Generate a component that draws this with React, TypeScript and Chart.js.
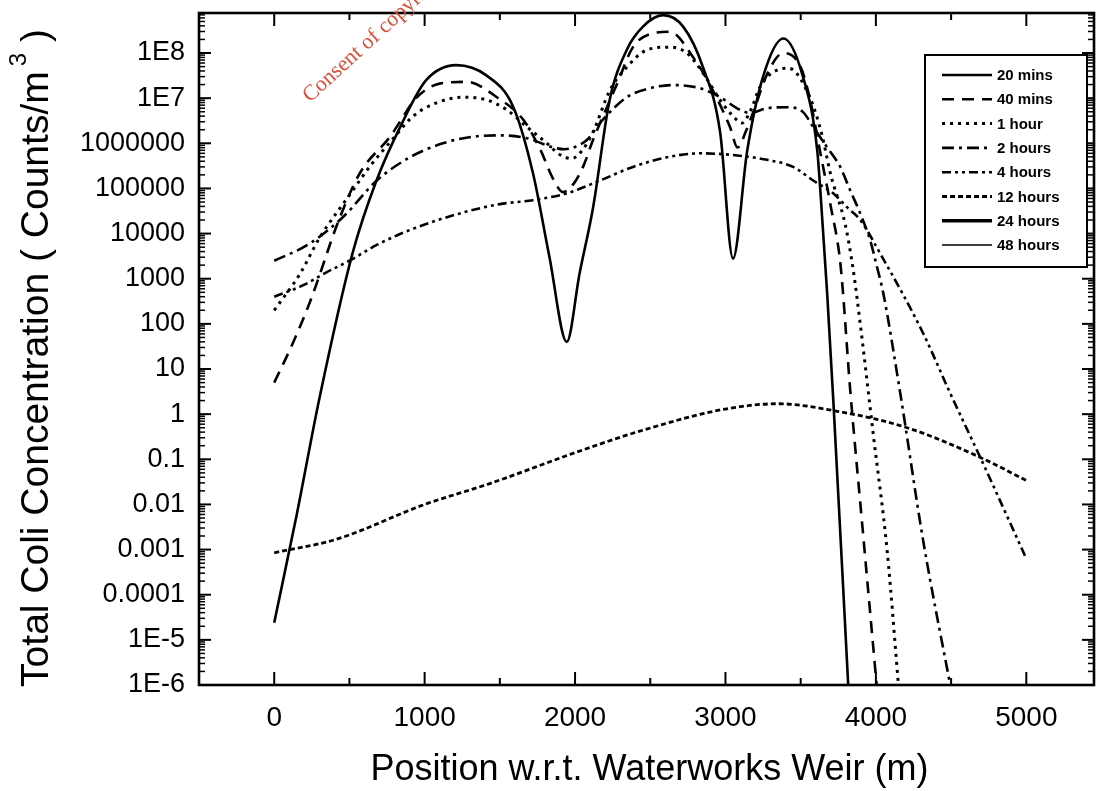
import React, { useEffect, useRef } from 'react';
import { Chart, registerables } from 'chart.js';

Chart.register(...registerables);

// ---------- data ----------
const seriesLabels = ['20 mins', '40 mins', '1 hour', '2 hours', '4 hours', '12 hours', '24 hours', '48 hours'];

const xTickValues = [0, 1000, 2000, 3000, 4000, 5000];
const xMinorTickValues = [500, 1500, 2500, 3500, 4500];
const yTickValues = [1e-6, 1e-5, 1e-4, 1e-3, 1e-2, 1e-1, 1, 10, 100, 1000, 1e4, 1e5, 1e6, 1e7, 1e8];
const yTickLabels = ['1E-6', '1E-5', '0.0001', '0.001', '0.01', '0.1', '1', '10', '100', '1000', '10000', '100000', '1000000', '1E7', '1E8'];

const x20min = [0, 150, 300, 520, 680, 850, 1010, 1210, 1410, 1590, 1720, 1830, 1945, 2030, 2120, 2230, 2345, 2450, 2585, 2720, 2850, 2965, 3050, 3145, 3250, 3385, 3515, 3610, 3635, 3676, 3717, 3816];
const y20min = [2.4e-5, 6e-3, 2.2, 3.6e3, 1.5e5, 2.8e6, 2.5e7, 5.4e7, 3.2e7, 6.3e6, 2.2e5, 3.0e3, 40, 1.3e3, 3.8e4, 9.1e6, 1.2e8, 3.8e8, 6.9e8, 3.8e8, 4.9e7, 1.7e6, 2.8e3, 7e5, 3e7, 2.1e8, 3e7, 7e5, 5.5e4, 480, 2.0, 1e-6];

const x40min = [0, 120, 240, 430, 570, 770, 950, 1100, 1280, 1480, 1660, 1770, 1860, 1920, 1990, 2053, 2120, 2212, 2280, 2385, 2520, 2630, 2785, 2915, 3030, 3080, 3140, 3190, 3280, 3385, 3500, 3563, 3630, 3700, 3765, 3830, 3915, 4005];
const y40min = [5, 35, 320, 2.0e4, 2.2e5, 1.4e6, 1.05e7, 2.1e7, 2.3e7, 1.05e7, 3.2e6, 7.1e5, 1.5e5, 8.3e4, 1.26e5, 3.0e5, 1.2e6, 6.3e6, 2.1e7, 1.35e8, 2.75e8, 2.95e8, 8.1e7, 1.5e7, 2.3e6, 8.1e5, 2.0e6, 5.5e6, 3.6e7, 1.0e8, 4.9e7, 9.1e6, 6.3e5, 4.0e4, 2.0e3, 3.2, 2.2e-3, 1e-6];

const x1h = [0, 170, 300, 500, 640, 790, 924, 1080, 1254, 1414, 1547, 1680, 1813, 1900, 1975, 2050, 2120, 2232, 2345, 2478, 2631, 2744, 2851, 2964, 3050, 3110, 3170, 3230, 3343, 3420, 3563, 3640, 3700, 3796, 3849, 3896, 3982, 4075, 4150];
const y1h = [200, 1.26e3, 7.9e3, 7.1e4, 3.2e5, 1.26e6, 4.0e6, 7.9e6, 1.05e7, 9.1e6, 5.5e6, 2.3e6, 1.0e6, 5.6e5, 4.6e5, 7.1e5, 1.8e6, 1.5e7, 4.9e7, 1.17e8, 1.35e8, 1.0e8, 3.6e7, 9.1e6, 4.0e6, 2.8e6, 5.6e6, 1.8e7, 4.2e7, 4.6e7, 1.0e7, 1.6e6, 2.0e5, 1.6e4, 1.6e3, 100, 0.37, 9.3e-4, 1e-6];

const x2h = [0, 236, 456, 682, 902, 1121, 1321, 1500, 1680, 1853, 1930, 2000, 2080, 2180, 2345, 2498, 2651, 2831, 2964, 3097, 3164, 3277, 3410, 3516, 3583, 3676, 3763, 3829, 3896, 3962, 4008, 4049, 4162, 4314, 4494];
const y2h = [2.5e3, 6.0e3, 2.3e4, 1.5e5, 4.9e5, 1.0e6, 1.4e6, 1.5e6, 1.3e6, 8.1e5, 7.4e5, 8.3e5, 1.2e6, 3.2e6, 1.05e7, 1.66e7, 1.95e7, 1.66e7, 1.05e7, 5.5e6, 4.7e6, 6.0e6, 6.3e6, 4.9e6, 2.3e6, 8.1e5, 3.0e5, 9.1e4, 2.8e4, 7.1e3, 1.8e3, 480, 2.9, 1.6e-3, 1e-6];

const x4h = [0, 190, 350, 500, 682, 902, 1234, 1500, 1720, 1946, 2166, 2385, 2611, 2831, 3050, 3277, 3450, 3583, 3716, 3809, 3896, 4029, 4314, 4494, 4694, 5000];
const y4h = [400, 710, 1.4e3, 2.5e3, 5.6e3, 1.2e4, 2.8e4, 4.5e4, 5.5e4, 7.8e4, 1.5e5, 3.0e5, 4.9e5, 6.0e5, 5.5e5, 4.3e5, 3.0e5, 1.5e5, 7.8e4, 3.8e4, 2.0e4, 3.6e3, 62, 2.9, 0.11, 6.3e-4];

const x12h = [0, 415, 1000, 1433, 2000, 2450, 3000, 3350, 3716, 4208, 4694, 5000];
const y12h = [8.5e-4, 1.7e-3, 0.01, 0.029, 0.14, 0.44, 1.3, 1.7, 1.2, 0.5, 0.11, 0.034];

// 24 and 48 hours lie entirely below the plotted range (legend only)
const x24h: number[] = [];
const y24h: number[] = [];
const x48h: number[] = [];
const y48h: number[] = [];

const seriesX = [x20min, x40min, x1h, x2h, x4h, x12h, x24h, x48h];
const seriesY = [y20min, y40min, y1h, y2h, y4h, y12h, y24h, y48h];

// ---------- styles ----------
const FONT = '"Liberation Sans", Arial, Helvetica, sans-serif';
const lineStyles = [
  { dash: [] as number[], width: 2.6 },
  { dash: [12, 8], width: 2.6 },
  { dash: [3, 5], width: 3 },
  { dash: [12, 5, 3, 5], width: 2.6 },
  { dash: [9, 4, 3, 4, 3, 4], width: 2.6 },
  { dash: [5, 3], width: 2.8 },
  { dash: [] as number[], width: 3.6 },
  { dash: [] as number[], width: 1.5 },
];

const framePlugin = {
  id: 'frameTicks',
  afterDraw(chart: any) {
    const { ctx, chartArea: a, scales } = chart;
    const xs = scales.x;
    const ys = scales.y;
    ctx.save();
    ctx.strokeStyle = '#000';
    ctx.lineCap = 'butt';
    ctx.setLineDash([]);
    const seg = (x1: number, y1: number, x2: number, y2: number) => {
      ctx.beginPath();
      ctx.moveTo(x1, y1);
      ctx.lineTo(x2, y2);
      ctx.stroke();
    };
    ctx.lineWidth = 2;
    for (const v of xTickValues) {
      const p = xs.getPixelForValue(v);
      seg(p, a.bottom, p, a.bottom - 13);
      seg(p, a.top, p, a.top + 13);
    }
    for (const v of xMinorTickValues) {
      const p = xs.getPixelForValue(v);
      seg(p, a.bottom, p, a.bottom - 7);
      seg(p, a.top, p, a.top + 7);
    }
    const yMax = ys.max;
    for (const v of yTickValues) {
      const p = ys.getPixelForValue(v);
      seg(a.left, p, a.left + 12, p);
      seg(a.right, p, a.right - 12, p);
      ctx.lineWidth = 1.5;
      for (let k = 2; k <= 9; k++) {
        const mv = v * k;
        if (mv > yMax) break;
        const mp = ys.getPixelForValue(mv);
        seg(a.left, mp, a.left + 6, mp);
        seg(a.right, mp, a.right - 6, mp);
      }
      ctx.lineWidth = 2;
    }
    ctx.lineWidth = 2.6;
    ctx.strokeRect(a.left, a.top, a.right - a.left, a.bottom - a.top);
    ctx.restore();
  },
};

const titlesPlugin = {
  id: 'titlesLegend',
  afterDraw(chart: any) {
    const { ctx, chartArea: a } = chart;
    ctx.save();
    ctx.fillStyle = '#000';
    // x title
    ctx.font = `36px ${FONT}`;
    ctx.textAlign = 'center';
    ctx.textBaseline = 'alphabetic';
    ctx.fillText('Position w.r.t. Waterworks Weir (m)', (a.left + a.right) / 2 + 3, 780);
    // y title
    const p1 = 'Total Coli Concentration ( Counts/m';
    const sup = '3';
    const p3 = ' )';
    ctx.font = `39px ${FONT}`;
    const w1 = ctx.measureText(p1).width;
    const w3 = ctx.measureText(p3).width;
    ctx.font = `24px ${FONT}`;
    const ws = ctx.measureText(sup).width;
    const gap = 5;
    const total = w1 + gap + ws + w3;
    ctx.translate(48, 358);
    ctx.rotate(-Math.PI / 2);
    ctx.textAlign = 'left';
    let x0 = -total / 2;
    ctx.font = `39px ${FONT}`;
    ctx.fillText(p1, x0, 0);
    x0 += w1 + gap;
    ctx.font = `24px ${FONT}`;
    ctx.fillText(sup, x0, -22);
    x0 += ws;
    ctx.font = `39px ${FONT}`;
    ctx.fillText(p3, x0, 0);
    ctx.restore();

    // legend box
    ctx.save();
    const bx = 925, by = 55, bw = 162, bh = 212;
    ctx.fillStyle = '#fff';
    ctx.fillRect(bx, by, bw, bh);
    ctx.strokeStyle = '#000';
    ctx.lineWidth = 2;
    ctx.strokeRect(bx, by, bw, bh);
    chart.data.datasets.forEach((ds: any, i: number) => {
      const cy = 75 + i * 24.3;
      ctx.setLineDash(ds.borderDash || []);
      ctx.lineWidth = ds.borderWidth;
      ctx.strokeStyle = '#000';
      ctx.beginPath();
      ctx.moveTo(942, cy);
      ctx.lineTo(992, cy);
      ctx.stroke();
      ctx.setLineDash([]);
      ctx.fillStyle = '#000';
      ctx.font = `bold 15px ${FONT}`;
      ctx.textAlign = 'left';
      ctx.textBaseline = 'middle';
      ctx.fillText(ds.label, 997, cy + 1);
    });
    ctx.restore();

    // watermark
    ctx.save();
    ctx.translate(310, 103);
    ctx.rotate(-0.74);
    ctx.fillStyle = '#d8513c';
    ctx.font = '22px "Liberation Serif", "Times New Roman", serif';
    ctx.textAlign = 'left';
    ctx.textBaseline = 'alphabetic';
    ctx.fillText('Consent of copyright owner required for any other use.', 0, 0);
    ctx.restore();
  },
};

export default function App() {
  const canvasRef = useRef<HTMLCanvasElement | null>(null);

  useEffect(() => {
    document.body.style.margin = '0';
    const canvas = canvasRef.current;
    if (!canvas) return;
    const datasets = seriesLabels.map((label, i) => ({
      label,
      data: seriesX[i].map((x, j) => ({ x, y: seriesY[i][j] })),
      borderColor: '#000',
      backgroundColor: '#000',
      borderWidth: lineStyles[i].width,
      borderDash: lineStyles[i].dash,
      borderCapStyle: 'butt' as const,
      pointRadius: 0,
      fill: false,
      cubicInterpolationMode: 'monotone' as const,
    }));
    const chart = new Chart(canvas, {
      type: 'line',
      data: { datasets },
      options: {
        responsive: false,
        animation: false,
        devicePixelRatio: 1,
        layout: { padding: { top: 13, right: 21, left: 0, bottom: 0 } },
        plugins: { legend: { display: false }, tooltip: { enabled: false } },
        scales: {
          x: {
            type: 'linear',
            min: -500,
            max: 5450,
            grid: { display: false, drawTicks: false },
            border: { display: false },
            afterBuildTicks: (s: any) => {
              s.ticks = xTickValues.map((v) => ({ value: v }));
            },
            afterFit: (s: any) => {
              s.height = 106;
              s.paddingLeft = 0;
              s.paddingRight = 0;
            },
            ticks: {
              padding: 16,
              color: '#000',
              autoSkip: false,
              maxRotation: 0,
              font: { family: FONT, size: 28 },
              callback: (_v: any, i: number) => String(xTickValues[i]),
            },
          },
          y: {
            type: 'logarithmic',
            min: 1e-6,
            max: 7.7e8,
            grid: { display: false, drawTicks: false },
            border: { display: false },
            afterBuildTicks: (s: any) => {
              s.ticks = yTickValues.map((v) => ({ value: v }));
            },
            afterFit: (s: any) => {
              s.width = 199;
              s.paddingTop = 0;
              s.paddingBottom = 0;
            },
            ticks: {
              padding: 14,
              color: '#000',
              autoSkip: false,
              font: { family: FONT, size: 27 },
              callback: (_v: any, i: number) => yTickLabels[i],
            },
          },
        },
      },
      plugins: [framePlugin, titlesPlugin],
    } as any);
    return () => chart.destroy();
  }, []);

  return (
    <div style={{ width: 1115, height: 791, background: '#fff' }}>
      <canvas ref={canvasRef} width={1115} height={791} style={{ display: 'block' }} />
    </div>
  );
}
